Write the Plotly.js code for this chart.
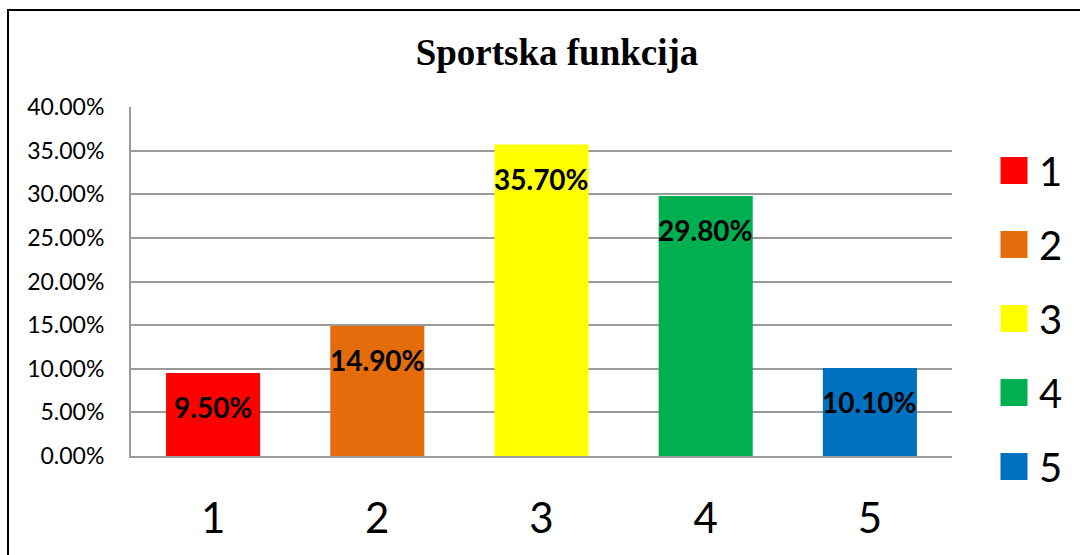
<!DOCTYPE html>
<html>
<head>
<meta charset="utf-8">
<script src="https://cdn.plot.ly/plotly-3.0.1.min.js"></script>
<style>html,body{margin:0;padding:0;background:#fff;}#chart{width:1080px;height:555px;}</style>
</head>
<body>
<div id="chart"></div>
<script>
const categories = ["1", "2", "3", "4", "5"];
const values = [9.5, 14.9, 35.7, 29.8, 10.1];
const colors = ["#FF0000", "#E46C0A", "#FFFF00", "#00B050", "#0070C0"];
const yTicks = [0, 5, 10, 15, 20, 25, 30, 35, 40];
const chartTitle = "Sportska funkcija";

const traces = categories.map((c, i) => ({
  type: "bar",
  x: [c],
  y: [values[i]],
  name: c,
  legendgroup: "g" + c,
  marker: { color: colors[i] },
  hoverinfo: "skip"
}));

const annotations = categories.map((c, i) => ({
  x: i, y: values[i], xref: "x", yref: "y",
  text: values[i].toFixed(2) + "%",
  showarrow: false, yshift: -34,
  font: { family: "Lato", size: 28, weight: 700, color: "#000" }
}));

const layout = {
  width: 1080, height: 555,
  margin: { l: 131, r: 128, t: 107, b: 99 },
  paper_bgcolor: "#fff", plot_bgcolor: "#fff",
  title: {
    text: chartTitle,
    font: { family: "Liberation Serif", size: 37, weight: 700, color: "#000" },
    x: 557 / 1080, xref: "container", xanchor: "center",
    y: 1 - 52 / 555, yref: "container", yanchor: "middle"
  },
  barmode: "overlay",
  bargap: 0.427,
  xaxis: {
    type: "category",
    categoryorder: "array", categoryarray: categories,
    range: [-0.5, 4.5],
    showgrid: false, zeroline: false,
    showline: true, linecolor: "#9a9a9a", linewidth: 2,
    ticks: "", ticklabelstandoff: 25,
    tickfont: { family: "Lato", size: 42, color: "#000" }
  },
  yaxis: {
    range: [0, 40], tickvals: yTicks,
    ticktext: yTicks.map(v => v.toFixed(2) + "%"),
    showgrid: true, gridcolor: "#9a9a9a", gridwidth: 2,
    zeroline: false,
    showline: true, linecolor: "#9a9a9a", linewidth: 2,
    ticks: "", ticklabelstandoff: 20,
    tickfont: { family: "Lato", size: 23, color: "#000" }
  },
  showlegend: true,
  legend: {
    traceorder: "grouped", tracegroupgap: 19,
    x: 994 / 1080, xref: "container", xanchor: "left",
    y: 1 - 138 / 555, yref: "container", yanchor: "top",
    maxheight: 520,
    font: { family: "Lato", size: 40, color: "#000" },
    bgcolor: "rgba(0,0,0,0)", borderwidth: 0
  },
  annotations: annotations,
  shapes: [{
    type: "rect", xref: "paper", yref: "paper",
    x0: (8 - 131) / 821, x1: (1090 - 131) / 821,
    y0: (456 - 570) / 349, y1: (456 - 10) / 349,
    line: { color: "#000", width: 2 }, fillcolor: "rgba(0,0,0,0)", layer: "below"
  }]
};

Plotly.newPlot("chart", traces, layout, { displayModeBar: false, staticPlot: true }).then(gd => {
  gd.querySelectorAll(".legend .legendpoints path").forEach(p => {
    const t = p.getAttribute("transform") || "";
    p.setAttribute("transform", t + " scale(2.25)");
  });
  gd.querySelectorAll(".legend .legendtext").forEach(t => {
    const x = parseFloat(t.getAttribute("x") || "0");
    t.setAttribute("x", x + 5);
  });
});
</script>
</body>
</html>
